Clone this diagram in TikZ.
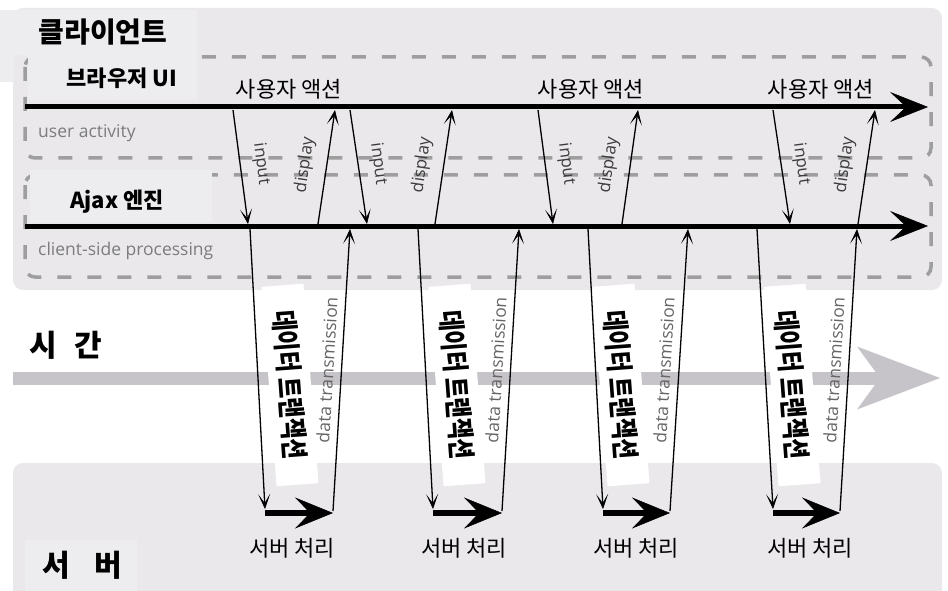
\documentclass[tikz,border=0pt]{standalone}
\usepackage{fontspec}
\setmainfont{Noto Sans CJK KR}
\newfontfamily\latinsans{Open Sans}
\usetikzlibrary{arrows.meta}
\definecolor{panel}{HTML}{EAE8EB}
\definecolor{labelbg}{HTML}{EDECEE}
\definecolor{dashgray}{HTML}{9E9E9E}
\definecolor{timegray}{HTML}{C6C4C8}
\definecolor{softtext}{HTML}{7C7C7C}
\definecolor{midtext}{HTML}{3C3C3C}
\definecolor{dttext}{HTML}{666666}
\tikzset{
  panelbox/.style={fill=panel, rounded corners=10pt},
  lanebox/.style={draw=dashgray, line width=3.5pt, dash pattern=on 14pt off 16pt, rounded corners=10pt},
  mainline/.style={line width=5pt, -{Stealth[length=38pt,width=30pt,inset=16pt,line width=0.5pt]}},
  srvarrow/.style={line width=5.5pt, -{Stealth[length=38pt,width=31pt,inset=15pt,line width=0.5pt]}},
  thinarrow/.style={line width=1.3pt, -{Stealth[length=15pt,width=12pt,inset=9pt,line width=0.6pt]}},
  timebar/.style={draw=timegray, line width=13pt, -{Stealth[length=83pt,width=63pt,inset=23pt,line width=0pt]}},
  kor/.style={font=\fontsize{22}{26}\selectfont, inner sep=0pt},
  korbold/.style={font=\fontsize{22}{26}\selectfont\bfseries, inner sep=0pt},
  bigbold/.style={font=\fontsize{30}{34}\selectfont\bfseries, inner sep=0pt},
  lanetext/.style={font=\latinsans\fontsize{17.5}{20}\selectfont, text=softtext, inner sep=0pt, anchor=west},
  arrowtext/.style={font=\latinsans\fontsize{17}{19}\selectfont, text=midtext, inner sep=0pt},
  dttxt/.style={font=\latinsans\fontsize{17.5}{20}\selectfont, text=dttext, inner sep=0pt},
  transbox/.style={fill=white, minimum width=200pt, minimum height=42pt, inner sep=0pt,
    font=\fontsize{28}{32}\selectfont\bfseries}
}
\begin{document}
\begin{tikzpicture}[x=1pt,y=-1pt]
\useasboundingbox (0,0) rectangle (948,591);
% panels
\fill[panelbox] (13,8) rectangle (942,290);
\fill[panelbox] (13,463) rectangle (942,610);
\fill[labelbg] (0,10) rectangle (197,55);
\fill[labelbg] (0,55) rectangle (14,82);
\fill[labelbg] (25,540) rectangle (137,591);
% lanes
\draw[lanebox] (25,57) rectangle (931,158);
\draw[lanebox] (25,175) rectangle (931,277);
\fill[labelbg] (28,52) rectangle (197,100);
\fill[labelbg] (30,170) rectangle (212,222);
% time bar
\coordinate (tb0) at (13,378);
\coordinate (tb1) at (940,378);
\draw[timebar] (tb0) -- (tb1);
% transaction boxes
\foreach \i/\bx in {1/290,2/457,3/621,4/792}{
  \node[transbox, rotate=-85.7] (tr\i) at (\bx,385) {\scalebox{0.8}[1]{데이터 트랜잭션}};
}
% main lines
\coordinate (bu0) at (25,107);
\coordinate (bu1) at (928,107);
\coordinate (aj0) at (25,226);
\coordinate (aj1) at (928,226);
\draw[mainline] (bu0) -- (bu1);
\draw[mainline] (aj0) -- (aj1);
% user <-> ajax arrows
\foreach \i/\ia/\ib/\da/\db in {1/233/248/318/335, 2/350/367/435/452, 3/538/553/622/638, 4/773/790/858/875}{
  \coordinate (ins\i) at (\ia,110);
  \coordinate (ine\i) at (\ib,224);
  \coordinate (dis\i) at (\da,224);
  \coordinate (die\i) at (\db,110);
  \draw[thinarrow] (ins\i) -- (ine\i);
  \draw[thinarrow] (dis\i) -- (die\i);
  \node[arrowtext, rotate=-82.6] (inl\i) at (\ia+28,164) {input};
  \node[arrowtext, rotate=81.7] (dil\i) at (\da-13,165) {display};
}
% ajax <-> server arrows
\foreach \i/\a/\b/\c/\d/\sx in {1/250/265/333/350/292, 2/418/433/502/519/464, 3/588/603/670/688/636, 4/757/773/840/857/810}{
  \coordinate (ds\i) at (\a,229);
  \coordinate (de\i) at (\b,509);
  \coordinate (ss\i) at (\b,513);
  \coordinate (se\i) at (\c,513);
  \coordinate (us\i) at (\c,511);
  \coordinate (ue\i) at (\d,229);
  \draw[thinarrow] (ds\i) -- (de\i);
  \draw[srvarrow] (ss\i) -- (se\i);
  \draw[thinarrow] (us\i) -- (ue\i);
  \node[dttxt, rotate=86.6] (dt\i) at (\c-6,370) {data transmission};
  \node[kor] (sp\i) at (\sx,548) {서버 처리};
}
% labels
\node[font=\fontsize{28}{32}\selectfont\bfseries, inner sep=0pt] (client) at (103,32) {클라이언트};
\node[korbold] (browser) at (122,78) {브라우저 UI};
\node[korbold] (ajax) at (117,202) {Ajax 엔진};
\node[lanetext] (ua) at (38,133) {user activity};
\node[lanetext] (csp) at (38,251) {client-side processing};
\node[kor] (act1) at (289,89) {사용자 액션};
\node[kor] (act2) at (591,89) {사용자 액션};
\node[kor] (act3) at (821,89) {사용자 액션};
\node[bigbold] (time) at (66,345) {시\hspace{0.57em}간};
\node[bigbold] (server) at (82,565) {서\hspace{0.8em}버};
\end{tikzpicture}
\end{document}
